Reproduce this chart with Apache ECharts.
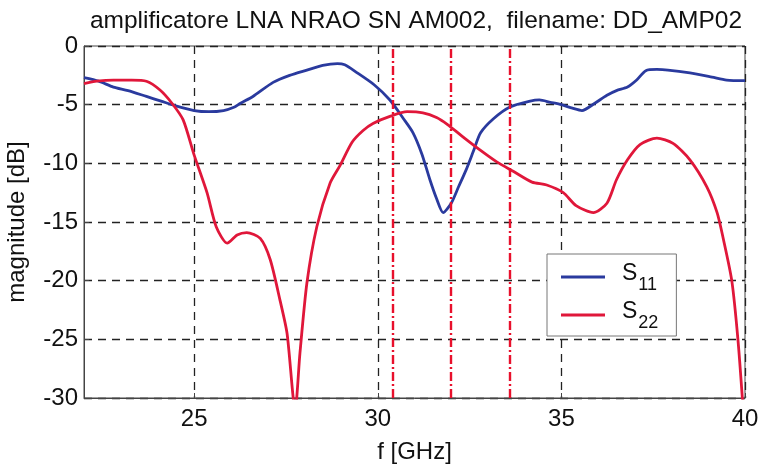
<!DOCTYPE html>
<html>
<head>
<meta charset="utf-8">
<script src="https://cdn.jsdelivr.net/npm/echarts@6/dist/echarts.min.js"></script>
<style>
  html, body { margin: 0; padding: 0; background: #fff; }
  #chart { width: 762px; height: 468px; }
</style>
</head>
<body>
<div id="chart"></div>
<script>
// frequenza [GHz] / magnitudine [dB]
const s11Freq = [22.0, 22.4, 22.8, 23.2, 23.7, 24.1, 24.5, 25.0, 25.4, 25.8, 26.1, 26.25, 26.6, 27.15, 27.6,
  28.07, 28.5, 28.9, 29.1, 29.4, 29.9, 30.33, 30.7, 30.96, 31.2, 31.42, 31.6, 31.78, 32.0, 32.2, 32.4, 32.6,
  32.8, 33.15, 33.6, 34.15, 34.4, 34.7, 35.0, 35.3, 35.56, 35.9, 36.24, 36.5, 36.8, 37.05, 37.3, 37.6, 37.9,
  38.5, 39.1, 39.5, 40.0];
const s11Mag = [-2.7, -3.0, -3.5, -3.8, -4.3, -4.7, -5.1, -5.5, -5.6, -5.5, -5.2, -4.9, -4.3, -3.1, -2.5,
  -2.05, -1.65, -1.5, -1.6, -2.2, -3.3, -4.6, -6.2, -7.4, -9.2, -11.4, -13.0, -14.2, -13.4, -12.0, -10.6, -9.0,
  -7.4, -6.2, -5.2, -4.7, -4.6, -4.8, -5.0, -5.3, -5.5, -4.9, -4.2, -3.8, -3.5, -2.9, -2.1, -2.0, -2.05,
  -2.3, -2.65, -2.9, -2.95];

const s22Freq = [22.0, 22.35, 22.8, 23.3, 23.7, 24.07, 24.4, 24.7, 25.0, 25.35, 25.6, 25.9, 26.17, 26.43, 26.8,
  27.07, 27.34, 27.53, 27.75, 27.88, 28.07, 28.34, 28.7, 28.97, 29.3, 29.6, 29.87, 30.33, 30.8, 31.23, 31.6,
  31.9, 32.3, 32.8, 33.25, 33.7, 34.2, 34.6, 35.05, 35.4, 35.87, 36.24, 36.5, 36.8, 37.14, 37.6, 38.04,
  38.5, 38.96, 39.24, 39.4, 39.64, 39.81, 39.95];
const s22Mag = [-3.2, -3.0, -2.9, -2.9, -3.0, -3.75, -4.9, -6.3, -9.3, -12.5, -15.4, -16.8, -16.1, -15.9, -16.4,
  -18.2, -21.7, -24.5, -31, -26.2, -20.2, -15.4, -11.7, -10.2, -8.2, -7.2, -6.6, -6.0, -5.6, -5.7, -6.1,
  -6.7, -7.7, -8.9, -9.9, -10.7, -11.6, -11.85, -12.5, -13.6, -14.2, -13.4, -11.4, -9.7, -8.4, -7.85, -8.3,
  -9.7, -12.0, -14.2, -16.3, -20.0, -25.1, -31];

// linee verticali rosse tratto-punto
const markerFreq = [30.4, 32.0, 33.6];
const xTicks = [25, 30, 35, 40];

const FONT = 'Liberation Sans';
const toPairs = (xs, ys) => xs.map((x, i) => [x, ys[i]]);

const chart = echarts.init(document.getElementById('chart'));

const option = {
  backgroundColor: '#fff',
  animation: false,
  textStyle: { fontFamily: FONT },
  title: {
    text: 'amplificatore LNA NRAO SN AM002,  filename: DD_AMP02',
    left: 411,
    textAlign: 'center',
    top: 4,
    textStyle: { fontFamily: FONT, fontSize: 24.5, fontWeight: 'normal', color: '#111' }
  },
  grid: {
    left: 84, right: 17, top: 46, bottom: 70,
    outerBoundsMode: 'none',
    containLabel: false,
    show: true, borderColor: '#444', borderWidth: 1, backgroundColor: '#fff'
  },
  legend: {
    orient: 'vertical',
    left: 547, top: 254,
    backgroundColor: '#fff',
    borderColor: '#777',
    borderWidth: 1,
    padding: [6, 18, 4, 14],
    icon: 'rect',
    itemWidth: 44,
    itemHeight: 3,
    itemGap: 4,
    data: ['S11', 'S22'],
    formatter: (name) => `{s|S}{sub|${name.substring(1)}}`,
    textStyle: {
      padding: [0, 0, 0, 12],
      rich: {
        s: { fontFamily: FONT, fontSize: 23, color: '#111', lineHeight: 34, verticalAlign: 'top', padding: [2, 0, 0, 0] },
        sub: { fontFamily: FONT, fontSize: 18, color: '#111', lineHeight: 34, verticalAlign: 'bottom', padding: [14, 0, 0, 1] }
      }
    }
  },
  xAxis: {
    type: 'value',
    min: 22, max: 40,
    name: 'f [GHz]',
    nameLocation: 'middle',
    nameGap: 42,
    nameTextStyle: { fontFamily: FONT, fontSize: 24, color: '#111' },
    axisLine: { onZero: false, lineStyle: { color: '#444', width: 1 } },
    axisTick: { inside: true, length: 5, customValues: xTicks, lineStyle: { color: '#444' } },
    axisLabel: { customValues: xTicks, margin: 9, fontFamily: FONT, fontSize: 24, color: '#111' },
    splitLine: { show: true, lineStyle: { color: '#222', type: [8, 6], width: 1.3 } }
  },
  yAxis: {
    type: 'value',
    min: -30, max: 0, interval: 5,
    name: 'magnitude [dB]',
    nameLocation: 'middle',
    nameGap: 55,
    nameTextStyle: { fontFamily: FONT, fontSize: 24, color: '#111' },
    axisLine: { show: true, lineStyle: { color: '#444', width: 1 } },
    axisTick: { show: true, inside: true, length: 5, lineStyle: { color: '#444' } },
    axisLabel: { margin: 6, fontFamily: FONT, fontSize: 24, color: '#111' },
    splitLine: { show: true, lineStyle: { color: '#222', type: [8, 6], width: 1.3 } }
  },
  series: [
    {
      name: 'S11',
      type: 'line',
      data: toPairs(s11Freq, s11Mag),
      showSymbol: false,
      symbol: 'none',
      smooth: 0.25,
      clip: true,
      lineStyle: { color: '#2a3a9e', width: 2.8 },
      itemStyle: { color: '#2a3a9e' },
      z: 3
    },
    {
      name: 'S22',
      type: 'line',
      data: toPairs(s22Freq, s22Mag),
      showSymbol: false,
      symbol: 'none',
      smooth: 0.25,
      clip: true,
      lineStyle: { color: '#e0173a', width: 2.8 },
      itemStyle: { color: '#e0173a' },
      z: 4,
      markLine: {
        silent: true,
        symbol: 'none',
        label: { show: false },
        lineStyle: { color: '#e8102c', width: 2.4, type: [9, 3, 2, 3] },
        data: markerFreq.map(f => ({ xAxis: f }))
      }
    }
  ]
};

chart.setOption(option);
</script>
</body>
</html>
